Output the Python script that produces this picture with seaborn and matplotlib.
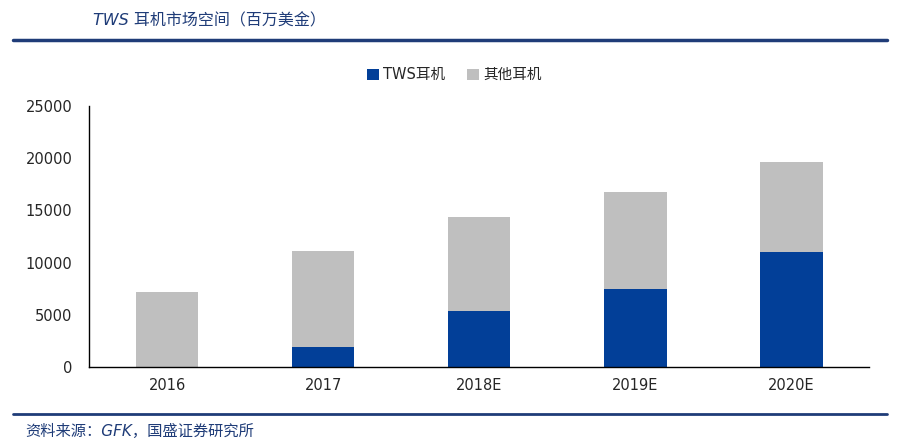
import matplotlib
matplotlib.use("Agg")
import matplotlib.pyplot as plt
import seaborn as sns
import pandas as pd
from matplotlib.lines import Line2D
from matplotlib.patches import Patch

categories = ["2016", "2017", "2018E", "2019E", "2020E"]
tws = [0, 1900, 5400, 7500, 11000]
total = [7200, 11100, 14400, 16800, 19600]
other = [t - w for t, w in zip(total, tws)]
series_names = ["TWS耳机", "其他耳机"]
yticks = [0, 5000, 10000, 15000, 20000, 25000]

sns.set_theme(style="white")
plt.rcParams['font.family'] = ['DejaVu Sans', 'Noto Sans CJK SC']

BLUE = "#023F98"
GREY = "#BFBFBF"
DARK = "#1F3C78"

df = pd.DataFrame({"cat": categories, "tws": tws, "total": total, "other": other})

fig = plt.figure(figsize=(9, 4.48), dpi=100)
ax = fig.add_axes([0.099, 0.181, 0.867, 0.582])

sns.barplot(data=df, x="cat", y="total", color=GREY, width=0.4, ax=ax,
            saturation=1, edgecolor="none")
sns.barplot(data=df, x="cat", y="tws", color=BLUE, width=0.4, ax=ax,
            saturation=1, edgecolor="none")

ax.set_xlim(-0.5, len(categories) - 0.5)
ax.set_ylim(0, 25000)
ax.set_yticks(yticks)
ax.set_yticklabels([str(v) for v in yticks], fontsize=10.5)
ax.set_xlabel("")
ax.set_ylabel("")
for s in ["top", "right"]:
    ax.spines[s].set_visible(False)
for s in ["left", "bottom"]:
    ax.spines[s].set_color("black")
    ax.spines[s].set_linewidth(1.0)
ax.tick_params(axis="y", direction="out", length=3.5, width=1, color="black", pad=8.5, labelsize=10.5)
ax.tick_params(axis="x", which="major", length=0, pad=8, labelsize=10.5)
ax.set_xticks([i + 0.5 for i in range(len(categories) - 1)], minor=True)
ax.tick_params(axis="x", which="minor", direction="in", length=5, width=1, color="black")
ax.grid(False)

handles = [Patch(facecolor=BLUE, edgecolor="none"), Patch(facecolor=GREY, edgecolor="none")]
fig.legend(handles, series_names, loc="center", bbox_to_anchor=(0.505, 0.833), ncol=2,
           frameon=False, handlelength=0.8, handleheight=0.8,
           handletextpad=0.3, columnspacing=1.5,
           prop={'family': ['DejaVu Sans', 'Noto Sans CJK SC'], 'size': 10.5})

fig.text(0.103, 0.953, "TWS 耳机市场空间（百万美金）", fontsize=11.5, color=DARK,
         style="italic", va="center", ha="left", family=['DejaVu Sans', 'Noto Sans CJK SC'])
fig.add_artist(Line2D([0.014, 0.986], [0.911, 0.911], color=DARK, linewidth=2.5,
                      transform=fig.transFigure))
fig.add_artist(Line2D([0.014, 0.986], [0.076, 0.076], color=DARK, linewidth=2.0,
                      transform=fig.transFigure))
fig.text(0.028, 0.036, "资料来源：GFK，国盛证券研究所", fontsize=11, color=DARK,
         style="italic", va="center", ha="left", family=['DejaVu Sans', 'Noto Sans CJK SC'])

fig.savefig("out.png", dpi=100, facecolor="white")
